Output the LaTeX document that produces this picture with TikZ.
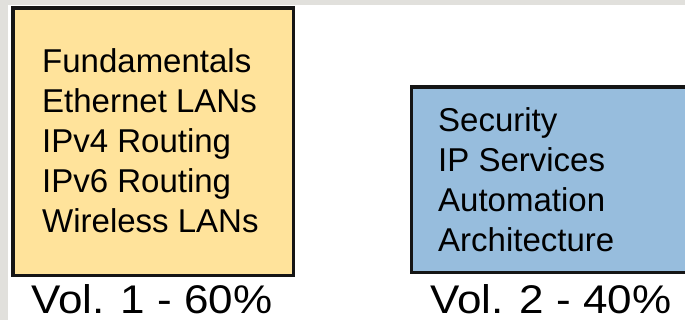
\documentclass[tikz,border=0pt]{standalone}
\usepackage{fontspec}
\setmainfont{Liberation Sans}
\definecolor{bggray}{HTML}{E1E0DC}
\definecolor{boxyellow}{HTML}{FFE39B}
\definecolor{boxblue}{HTML}{97BDDD}
\definecolor{edge}{HTML}{151515}
\tikzset{
  volbox/.style={draw=edge, line width=3.5pt, inner sep=0pt},
  topics/.style={anchor=base west, inner sep=0pt, align=left, font=\fontsize{33}{40}\selectfont},
  vollabel/.style={anchor=base west, inner sep=0pt, font=\fontsize{40}{44}\selectfont}
}
\begin{document}
\begin{tikzpicture}[x=1pt,y=-1pt]
\useasboundingbox (0,0) rectangle (685,320);
\fill[bggray] (0,0) rectangle (685,320);
\fill[white] (8,5) rectangle (685,320);
\begin{scope}
\clip (0,0) rectangle (685,320);
\draw[volbox, fill=boxyellow] (13.2,8.2) rectangle (293.3,275.3);
\draw[volbox, fill=boxblue] (411.3,87) rectangle (720,272.5);
\end{scope}
\node[topics] (t1) at (42,233) {Fundamentals\\Ethernet LANs\\IPv4 Routing\\IPv6 Routing\\Wireless LANs};
\node[topics] (t2) at (438,252) {Security\\IP Services\\Automation\\Architecture};
\node[vollabel] (l1) at (31,313) {\scalebox{1.1}[1]{Vol. 1 - 60\%}};
\node[vollabel] (l2) at (430,313) {\scalebox{1.1}[1]{Vol. 2 - 40\%}};
\end{tikzpicture}
\end{document}
